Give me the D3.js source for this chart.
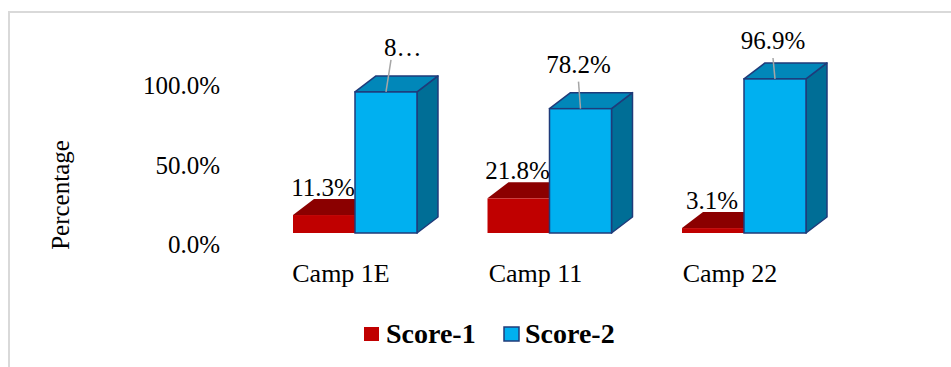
<!DOCTYPE html>
<html>
<head>
<meta charset="utf-8">
<script src="https://cdn.jsdelivr.net/npm/d3@7"></script>
<style>
  body { margin: 0; background: #fff; }
  text { font-family: "Liberation Serif", "Times New Roman", serif; fill: #000; }
</style>
</head>
<body>
<script>
// chart data
var camps = ["Camp 1E", "Camp 11", "Camp 22"];
var seriesNames = ["Score-1", "Score-2"];
var score1 = [0.113, 0.218, 0.031];
var score2 = [0.887, 0.782, 0.969];
var score2Labels = ["8\u2026", "78.2%", "96.9%"];
var yTicks = [0, 0.5, 1];

var width = 951, height = 367;
var depthX = 21, depthY = -16;

var svg = d3.select("body").append("svg")
    .attr("width", width)
    .attr("height", height);

// chart area border
svg.append("rect")
    .attr("x", 9).attr("y", 12)
    .attr("width", 960).attr("height", 380)
    .attr("fill", "none")
    .attr("stroke", "#d9d9d9")
    .attr("stroke-width", 2);

var xScale = d3.scaleBand()
    .domain(camps)
    .range([293, 806])
    .paddingInner(0.3625)
    .paddingOuter(0);

var xInner = d3.scaleBand()
    .domain(seriesNames)
    .range([0, xScale.bandwidth()]);

var yScale = d3.scaleLinear()
    .domain([0, 1])
    .range([233, 74]);

var fmt = d3.format(".1%");

// y tick labels (drawn on the back wall)
svg.append("g").selectAll("text")
    .data(yTicks)
    .enter().append("text")
    .attr("x", 220)
    .attr("y", function (d) { return yScale(d) + 20; })
    .attr("text-anchor", "end")
    .style("font-size", "25px")
    .text(function (d) { return fmt(d); });

svg.append("text")
    .attr("transform", "translate(69,195) rotate(-90)")
    .attr("text-anchor", "middle")
    .style("font-size", "25px")
    .text("Percentage");

// category labels
svg.append("g").selectAll("text")
    .data(camps)
    .enter().append("text")
    .attr("x", function (d) { return xScale(d) + 48; })
    .attr("y", 282)
    .attr("text-anchor", "middle")
    .style("font-size", "26px")
    .text(function (d) { return d; });

function bar3d(g, x0, w, v, colors, outline) {
    var y0 = yScale(0), y1 = yScale(v);
    var x1 = x0 + w;
    var sw = outline ? 1.5 : 0;
    var st = outline || "none";
    // right side
    g.append("path")
        .attr("d", "M" + x1 + "," + y1 + "L" + (x1 + depthX) + "," + (y1 + depthY) +
            "L" + (x1 + depthX) + "," + (y0 + depthY) + "L" + x1 + "," + y0 + "Z")
        .attr("fill", colors.side).attr("stroke", st).attr("stroke-width", sw)
        .attr("stroke-linejoin", "round");
    // top
    g.append("path")
        .attr("d", "M" + x0 + "," + y1 + "L" + (x0 + depthX) + "," + (y1 + depthY) +
            "L" + (x1 + depthX) + "," + (y1 + depthY) + "L" + x1 + "," + y1 + "Z")
        .attr("fill", colors.top).attr("stroke", st).attr("stroke-width", sw)
        .attr("stroke-linejoin", "round");
    // front
    g.append("rect")
        .attr("x", x0).attr("y", y1)
        .attr("width", w).attr("height", y0 - y1)
        .attr("fill", colors.front).attr("stroke", st).attr("stroke-width", sw);
}

var redColors = { front: "#c00000", top: "#8b0000", side: "#900000" };
var blueColors = { front: "#00b0f0", top: "#0187b9", side: "#006e96" };

var bars = svg.append("g");

camps.forEach(function (c, i) {
    var g = bars.append("g");
    var xr = xScale(c) + xInner("Score-1");
    var xb = xScale(c) + xInner("Score-2");
    var w = xInner.bandwidth();

    bar3d(g, xr, w, score1[i], redColors, null);
    bar3d(g, xb, w, score2[i], blueColors, "#1f3b7a");

    // Score-1 label
    g.append("text")
        .attr("x", xr + w / 2 - 1)
        .attr("y", yScale(score1[i]) + depthY - 3)
        .attr("text-anchor", "middle")
        .style("font-size", "25px")
        .text(fmt(score1[i]));

    // Score-2 label with leader line
    var top = yScale(score2[i]);
    var base = Math.max(top - 36, 49);
    var cx = xb + w / 2;
    var truncated = score2Labels[i].indexOf("\u2026") >= 0;
    var lx = truncated ? cx + 5 : cx - 2;
    g.append("line")
        .attr("x1", cx).attr("y1", top)
        .attr("x2", lx).attr("y2", base + (truncated ? 4 : 9))
        .attr("stroke", "#a6a6a6")
        .attr("stroke-width", 1.5);
    g.append("text")
        .attr("x", truncated ? cx - 2 : cx - 2)
        .attr("y", base)
        .attr("text-anchor", truncated ? "start" : "middle")
        .style("font-size", "25px")
        .text(score2Labels[i]);
});

// legend
var legend = svg.append("g");
var legendItems = [
    { name: seriesNames[0], fill: "#c00000", stroke: "none", x: 364, tx: 386 },
    { name: seriesNames[1], fill: "#00b0f0", stroke: "#1f3b7a", x: 504, tx: 525 }
];
legendItems.forEach(function (d) {
    legend.append("rect")
        .attr("x", d.x).attr("y", 327)
        .attr("width", 15).attr("height", 14)
        .attr("fill", d.fill)
        .attr("stroke", d.stroke)
        .attr("stroke-width", 1.5);
    legend.append("text")
        .attr("x", d.tx).attr("y", 343)
        .style("font-size", "28px")
        .style("font-weight", "bold")
        .text(d.name);
});
</script>
</body>
</html>
